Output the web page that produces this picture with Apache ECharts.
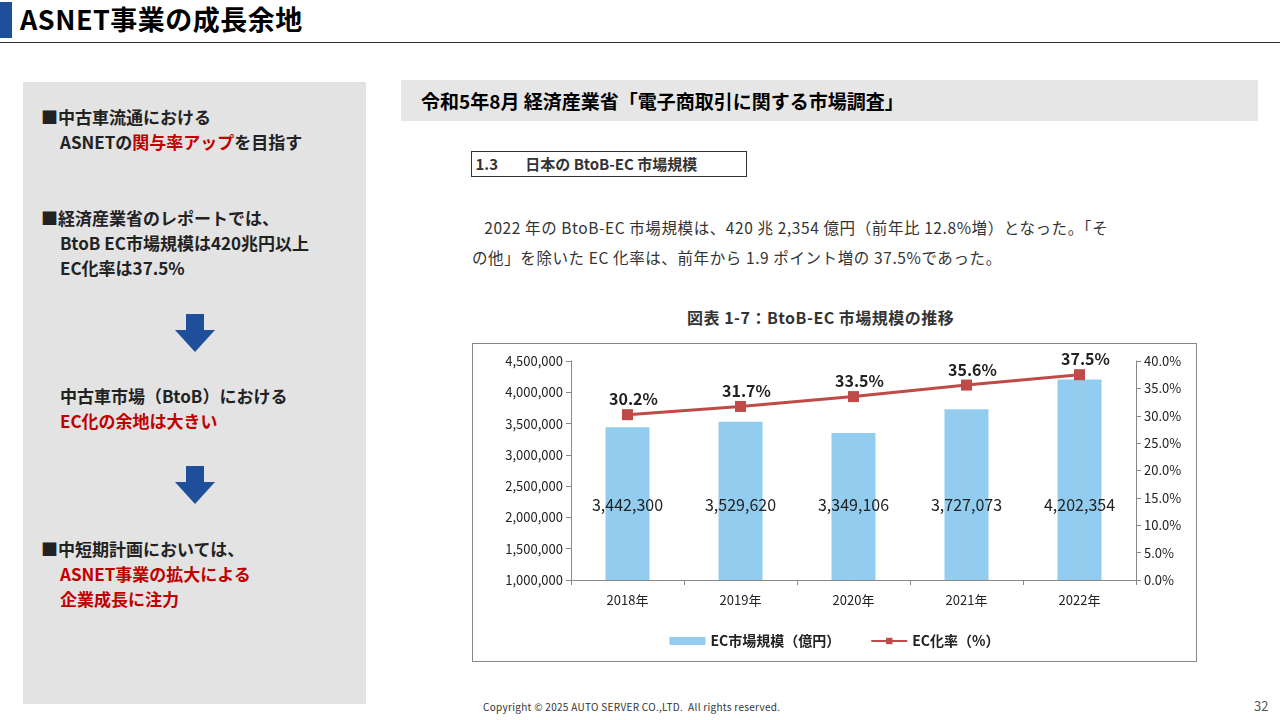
<!DOCTYPE html>
<html><head><meta charset="utf-8">
<script src="https://cdn.jsdelivr.net/npm/echarts@6/dist/echarts.min.js"></script>
<style>
body{margin:0;width:1280px;height:720px;position:relative;background:#fff;font-family:"Noto Sans CJK JP",sans-serif;overflow:hidden}
.abs{position:absolute}
.red{color:#c00000}
.lt{font-weight:bold;font-size:17px;line-height:25px;color:#222}
.ind{padding-left:19px}
.serif{font-family:"Noto Sans CJK JP",serif;color:#333}
</style></head><body>
<div class="abs" style="left:0;top:2px;width:12px;height:36px;background:#1f4e9a"></div>
<div class="abs" style="left:20px;top:-1px;font-size:27px;font-weight:bold;line-height:40px;letter-spacing:0.5px">ASNET事業の成長余地</div>
<div class="abs" style="left:0;top:42px;width:1280px;height:1px;background:#333"></div>
<div class="abs" style="left:23px;top:82px;width:343px;height:622px;background:#e3e3e3"></div>
<div class="abs lt" style="left:41px;top:104px">■中古車流通における<br><span class="ind">ASNETの<span class="red">関与率アップ</span>を目指す</span></div>
<div class="abs lt" style="left:41px;top:205px">■経済産業省のレポートでは、<br><span class="ind">BtoB EC市場規模は420兆円以上</span><br><span class="ind">EC化率は37.5%</span></div>
<div class="abs" style="left:186px;top:314px;width:18px;height:16px;background:#1f4e9a"></div>
<div class="abs" style="left:175px;top:330px;width:0;height:0;border-left:20px solid transparent;border-right:20px solid transparent;border-top:22px solid #1f4e9a"></div>
<div class="abs lt" style="left:60px;top:383px">中古車市場（BtoB）における<br><span class="red">EC化の余地は大きい</span></div>
<div class="abs" style="left:186px;top:466px;width:18px;height:16px;background:#1f4e9a"></div>
<div class="abs" style="left:175px;top:482px;width:0;height:0;border-left:20px solid transparent;border-right:20px solid transparent;border-top:22px solid #1f4e9a"></div>
<div class="abs lt" style="left:41px;top:536px">■中短期計画においては、<br><span class="ind red">ASNET事業の拡大による</span><br><span class="ind red">企業成長に注力</span></div>
<div class="abs" style="left:401px;top:80px;width:857px;height:41px;background:#e6e6e6"></div>
<div class="abs" style="left:421px;top:86px;font-size:19px;font-weight:bold;line-height:30px">令和5年8月 経済産業省「電子商取引に関する市場調査」</div>
<div class="abs serif" style="left:471px;top:151px;width:274px;height:24px;border:1px solid #333;font-size:15px;line-height:24px;font-weight:bold">&nbsp;1.3&nbsp;&nbsp;&nbsp;&nbsp;&nbsp;&nbsp;&nbsp;&nbsp;日本の BtoB-EC 市場規模</div>
<div class="abs serif" style="left:472px;top:212px;font-size:15.5px;line-height:30px;width:740px;letter-spacing:0.6px">&nbsp;&nbsp;&nbsp;2022 年の BtoB-EC 市場規模は、420 兆 2,354 億円（前年比 12.8%増）となった。「そ<br>の他」を除いた EC 化率は、前年から 1.9 ポイント増の 37.5%であった。</div>
<div class="abs serif" style="left:687px;top:305px;font-size:16px;font-weight:bold;line-height:24px;letter-spacing:0.5px">図表 1-7：BtoB-EC 市場規模の推移</div>
<div id="c" class="abs" style="left:472px;top:343px;width:723px;height:317px;border:1px solid #888"></div>
<div class="abs" style="left:483px;top:699px;font-size:10px;color:#333;letter-spacing:0.3px">Copyright © 2025 AUTO SERVER CO.,LTD.&nbsp;&nbsp;All rights reserved.</div>
<div class="abs" style="left:1254px;top:696px;font-size:13px;color:#555">32</div>
<script>
const years = ['2018年','2019年','2020年','2021年','2022年'];
const marketSize = [3442300, 3529620, 3349106, 3727073, 4202354];
const ecRate = [30.2, 31.7, 33.5, 35.6, 37.5];
const chart = echarts.init(document.getElementById('c'));
const fnt = '"Noto Sans CJK JP", serif';
chart.setOption({
  textStyle:{fontFamily:fnt},
  grid:{left:98,right:60,top:17,bottom:81},
  legend:{bottom:8,itemGap:30,textStyle:{fontSize:14,color:'#222',fontWeight:'bold'},
    data:[{name:'EC市場規模（億円）',icon:'rect'},{name:'EC化率（%）'}],itemWidth:36,itemHeight:8},
  xAxis:{type:'category',data:years,axisLine:{lineStyle:{color:'#888'}},axisTick:{show:true},
    axisLabel:{color:'#222',fontSize:13,margin:14}},
  yAxis:[
    {type:'value',min:1000000,max:4500000,interval:500000,splitLine:{show:false},
     axisLine:{show:true,lineStyle:{color:'#888'}},axisTick:{show:true},
     axisLabel:{color:'#222',fontSize:13,formatter:v=>v.toLocaleString('en-US')}},
    {type:'value',min:0,max:40,interval:5,splitLine:{show:false},
     axisLine:{show:true,lineStyle:{color:'#888'}},axisTick:{show:true},
     axisLabel:{color:'#222',fontSize:13,formatter:v=>v.toFixed(1)+'%'}}
  ],
  series:[
    {name:'EC市場規模（億円）',type:'bar',data:marketSize,barWidth:44,itemStyle:{color:'#92CDEF'},
     label:{show:true,position:'insideBottom',distance:67,fontSize:16,color:'#222',
       formatter:p=>p.value.toLocaleString('en-US')}},
    {name:'EC化率（%）',type:'line',yAxisIndex:1,data:ecRate,symbol:'rect',symbolSize:11,
     lineStyle:{color:'#BE4B48',width:3},itemStyle:{color:'#BE4B48'},
     label:{show:true,position:'top',distance:2,offset:[6,0],fontSize:16,color:'#222',fontWeight:'bold',formatter:p=>p.value.toFixed(1)+'%'}}
  ]
});
</script>
</body></html>
